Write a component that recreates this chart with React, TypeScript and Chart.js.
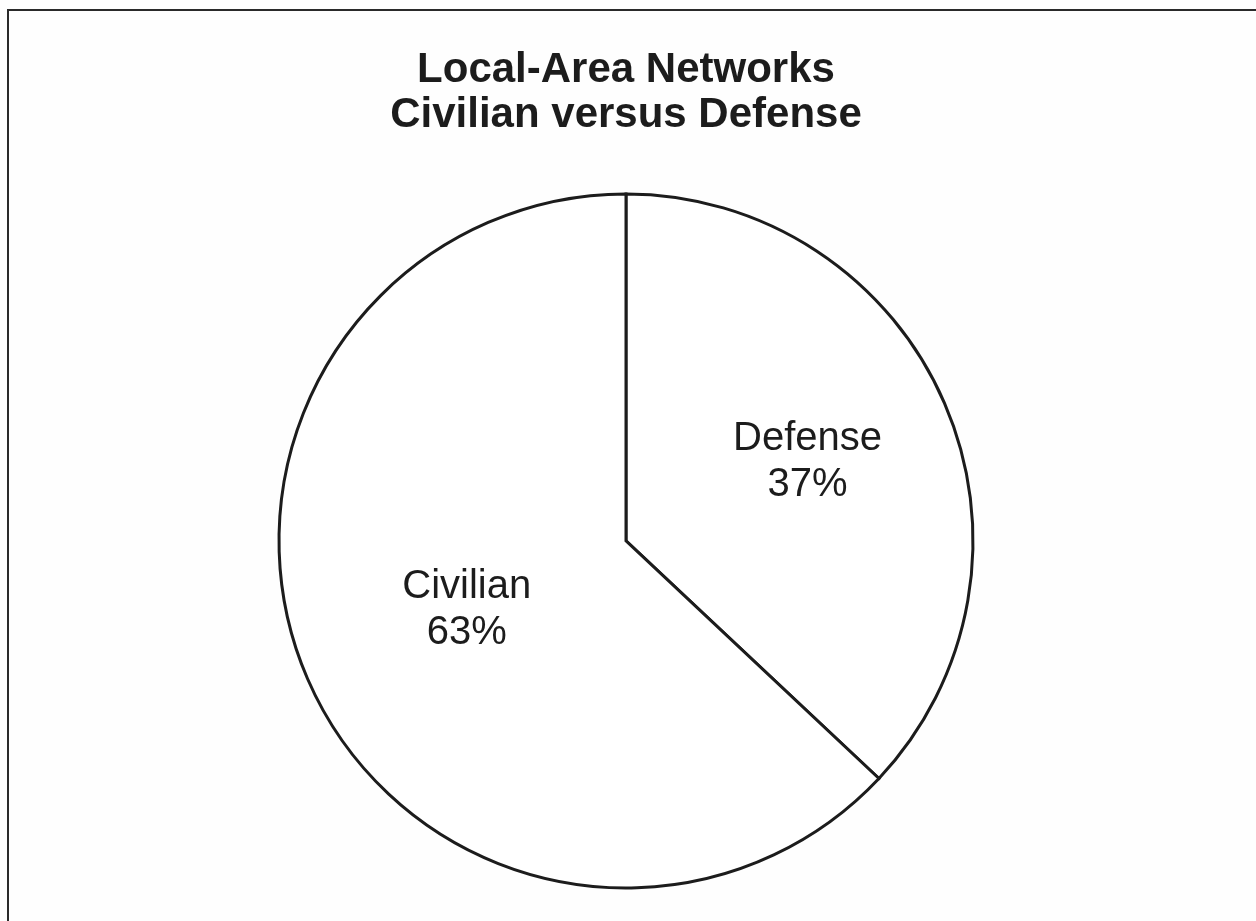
import React, { useEffect, useRef } from "react";
import { Chart, registerables } from "chart.js";

Chart.register(...registerables);

const titleLines = ["Local-Area Networks", "Civilian versus Defense"];
const categories = ["Defense", "Civilian"];
const shares = [37, 63];

const sliceLabels = {
  id: "sliceLabels",
  afterDatasetsDraw(chart: any, _args: any, opts: any) {
    const ctx = chart.ctx;
    const meta = chart.getDatasetMeta(0);
    const data = chart.data.datasets[0].data as number[];
    ctx.save();
    ctx.fillStyle = opts.color;
    ctx.font = opts.font;
    ctx.textAlign = "center";
    ctx.textBaseline = "middle";
    meta.data.forEach((arc: any, i: number) => {
      const p = arc.getProps(["x", "y", "startAngle", "endAngle", "outerRadius"], true);
      const mid = (p.startAngle + p.endAngle) / 2;
      const r = p.outerRadius * opts.radius[i];
      const cx = p.x + Math.cos(mid) * r;
      const cy = p.y + Math.sin(mid) * r;
      ctx.fillText(chart.data.labels[i], cx, cy - opts.gap / 2);
      ctx.fillText(`${data[i]}%`, cx, cy + opts.gap / 2);
    });
    ctx.restore();
  },
};

export default function App() {
  const ref = useRef<HTMLCanvasElement | null>(null);
  useEffect(() => {
    if (!ref.current) return;
    const chart = new Chart(ref.current, {
      type: "pie",
      data: {
        labels: categories,
        datasets: [
          {
            data: shares,
            backgroundColor: "#ffffff",
            borderColor: "#1c1c1c",
            borderWidth: 3,
            borderJoinStyle: "miter",
            hoverOffset: 0,
          } as any,
        ],
      },
      options: {
        animation: false,
        responsive: true,
        maintainAspectRatio: false,
        radius: 347,
        layout: { padding: { left: 0, right: 4, top: 0, bottom: 0 } },
        events: [],
        plugins: {
          legend: { display: false },
          tooltip: { enabled: false },
          title: {
            display: true,
            text: titleLines,
            color: "#1c1c1c",
            font: { family: "'Liberation Sans', Arial, sans-serif", size: 42, weight: "bold", lineHeight: 1.07 },
            padding: { top: 48, bottom: 23 },
          },
          sliceLabels: {
            font: "40px 'Liberation Sans', Arial, sans-serif",
            color: "#1c1c1c",
            radius: [0.57, 0.5],
            gap: 46,
          },
        } as any,
      },
      plugins: [sliceLabels],
    });
    return () => chart.destroy();
  }, []);

  return (
    <div
      style={{
        position: "absolute",
        left: 0,
        top: 0,
        width: 1256,
        height: 921,
        overflow: "hidden",
        background: "#fefefe",
      }}
    >
      <div
        style={{
          position: "absolute",
          left: 7,
          top: 9,
          right: -10,
          bottom: -10,
          borderTop: "2px solid #2a2a2a",
          borderLeft: "2px solid #2a2a2a",
        }}
      />
      <div style={{ position: "absolute", left: 0, top: 0, width: 1256, height: 921 }}>
        <canvas ref={ref} />
      </div>
    </div>
  );
}
